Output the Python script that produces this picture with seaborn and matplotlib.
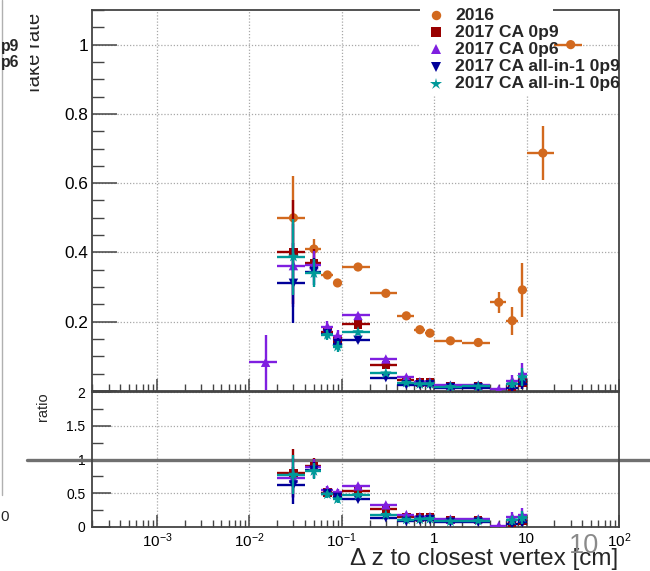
import numpy as np
import pandas as pd
import seaborn as sns
import matplotlib.pyplot as plt
from matplotlib.lines import Line2D
from matplotlib.patches import Rectangle
from matplotlib.transforms import Bbox
from matplotlib.ticker import FixedLocator, LogLocator, MultipleLocator, FuncFormatter, NullFormatter

nan = np.nan

# delta z bins [cm]
bin_lo = [0.01, 0.02, 0.04, 0.06, 0.08, 0.1, 0.2, 0.4, 0.6, 0.8, 1, 2, 4, 6, 8, 10, 20]
bin_hi = [0.02, 0.04, 0.06, 0.08, 0.1, 0.2, 0.4, 0.6, 0.8, 1, 2, 4, 6, 8, 10, 20, 40]

# fake rate per bin
rate_2016 = [nan, 0.50, 0.41, 0.335, 0.312, 0.358, 0.282, 0.217, 0.177, 0.167, 0.145, 0.14, 0.256, 0.203, 0.292, 0.687, 1.0]
err_2016 = [nan, 0.12, 0.03, 0.01, 0.008, 0.006, 0.005, 0.005, 0.005, 0.006, 0.004, 0.005, 0.03, 0.04, 0.077, 0.077, 0.0]
rate_ca09 = [nan, 0.40, 0.37, 0.171, 0.145, 0.192, 0.075, 0.032, 0.025, 0.025, 0.015, 0.015, nan, 0.008, 0.025, nan, nan]
err_ca09 = [nan, 0.15, 0.04, 0.015, 0.015, 0.008, 0.007, 0.005, 0.004, 0.004, 0.003, 0.003, nan, 0.008, 0.02, nan, nan]
rate_ca06 = [0.083, 0.362, 0.365, 0.186, 0.16, 0.218, 0.0925, 0.04, 0.027, 0.026, 0.017, 0.017, 0.005, 0.03, 0.05, nan, nan]
err_ca06 = [0.08, 0.12, 0.04, 0.015, 0.015, 0.008, 0.007, 0.005, 0.004, 0.004, 0.003, 0.003, 0.005, 0.015, 0.03, nan, nan]
rate_a09 = [nan, 0.311, 0.345, 0.165, 0.137, 0.1465, 0.0385, 0.018, 0.018, 0.018, 0.01, 0.01, nan, 0.01, 0.02, nan, nan]
err_a09 = [nan, 0.115, 0.04, 0.015, 0.015, 0.007, 0.005, 0.004, 0.004, 0.004, 0.003, 0.003, nan, 0.01, 0.015, nan, nan]
rate_a06 = [nan, 0.388, 0.34, 0.162, 0.128, 0.17, 0.051, 0.024, 0.02, 0.02, 0.012, 0.013, nan, 0.02, 0.04, nan, nan]
err_a06 = [nan, 0.11, 0.04, 0.015, 0.015, 0.008, 0.006, 0.004, 0.004, 0.004, 0.003, 0.003, nan, 0.012, 0.025, nan, nan]

names = ["2016", "2017 CA 0p9", "2017 CA 0p6", "2017 CA all-in-1 0p9", "2017 CA all-in-1 0p6"]
colors = ["#d2691e", "#990000", "#7f1fe0", "#000099", "#009999"]
markers = ["o", "s", "^", "v", "*"]
msizes = [44, 36, 46, 46, 74]

xtick_vals = [1e-3, 1e-2, 1e-1, 1, 10, 100]
xtick_labels = [r"$\mathregular{10^{-3}}$", r"$\mathregular{10^{-2}}$", r"$\mathregular{10^{-1}}$",
                "1", "10", r"$\mathregular{10^{2}}$"]

sns.set_theme(style="white")
plt.rcParams["font.family"] = ["Liberation Sans", "DejaVu Sans"]
plt.rcParams["mathtext.fontset"] = "custom"
plt.rcParams["mathtext.rm"] = "Liberation Sans"
plt.rcParams["mathtext.it"] = "Liberation Sans:italic"
plt.rcParams["mathtext.bf"] = "Liberation Sans:bold"

W, H = 650, 571
def fx(px):
    return px / W
def fy(py):
    return 1 - py / H

lo = np.array(bin_lo)
hi = np.array(bin_hi)
xc = (lo + hi) / 2
xerr = [xc - lo, hi - xc]

rates = [np.array(r) for r in [rate_2016, rate_ca09, rate_ca06, rate_a09, rate_a06]]
errs = [np.array(e) for e in [err_2016, err_ca09, err_ca06, err_a09, err_a06]]

fig = plt.figure(figsize=(6.5, 5.71), dpi=100)
ax = fig.add_axes([fx(92.3), fy(391), (619 - 92.3) / W, (391 - 10) / H])
rax = fig.add_axes([fx(92.3), fy(527), (619 - 92.3) / W, (527 - 392) / H])

spine_col = "#444444"
for a in (ax, rax):
    a.set_xscale("log")
    a.set_xlim(2e-4, 100)
    for s in a.spines.values():
        s.set_color(spine_col)
        s.set_linewidth(1.3)
    a.xaxis.set_major_locator(FixedLocator(xtick_vals))
    a.xaxis.set_minor_locator(LogLocator(base=10, subs=np.arange(2, 10), numticks=30))
    a.xaxis.set_minor_formatter(NullFormatter())
    a.tick_params(which="both", direction="in", color=spine_col, labelcolor="black",
                  top=False, right=False, left=True, bottom=True)
    a.tick_params(axis="x", which="major", length=9, width=1.1)
    a.tick_params(axis="x", which="minor", length=5, width=1.0)
    a.grid(True, which="major", ls=(0, (1, 1.5)), color="#a8a8a8", lw=0.9)
    a.set_axisbelow(True)

# main panel
ax.set_ylim(0, 1.1)
ax.yaxis.set_major_locator(MultipleLocator(0.2))
ax.yaxis.set_minor_locator(MultipleLocator(0.05))
ax.yaxis.set_major_formatter(FuncFormatter(lambda v, p: "" if v < 0.01 else f"{v:g}"))
ax.tick_params(axis="y", which="major", length=18, width=1.1, labelsize=12.4, pad=3)
ax.tick_params(axis="y", which="minor", length=8.5, width=1.0)
ax.tick_params(axis="x", labelbottom=False)

for i in range(5):
    ax.errorbar(xc, rates[i], xerr=xerr, yerr=errs[i], fmt="none", ecolor=colors[i],
                elinewidth=1.7, capsize=0, zorder=3 + i)
    d = pd.DataFrame({"x": xc, "y": rates[i]}).dropna()
    sns.scatterplot(data=d, x="x", y="y", ax=ax, color=colors[i], marker=markers[i],
                    s=msizes[i], edgecolor="none", linewidth=0, zorder=3.5 + i, legend=False)

# ratio panel: 2017 / 2016
rax.set_ylim(0, 2)
rax.yaxis.set_major_locator(MultipleLocator(0.5))
rax.yaxis.set_minor_locator(MultipleLocator(0.25))
rax.yaxis.set_major_formatter(FuncFormatter(lambda v, p: f"{v:g}"))
rax.tick_params(axis="y", which="major", length=14, width=1.1, labelsize=10, pad=5)
rax.tick_params(axis="y", which="minor", length=7.7, width=1.0)
rax.xaxis.set_major_formatter(FuncFormatter(lambda v, p: xtick_labels[xtick_vals.index(v)] if v in xtick_vals else ""))
rax.tick_params(axis="x", which="major", labelsize=11, pad=3.5)

rax.axhline(1, xmin=-0.124, xmax=1.06, color="#707070", lw=2.4, clip_on=False, zorder=2)
for i in range(1, 5):
    r = rates[i] / rates[0]
    rerr = r * np.sqrt((errs[i] / rates[i]) ** 2 + (errs[0] / rates[0]) ** 2)
    rax.errorbar(xc, r, xerr=xerr, yerr=rerr, fmt="none", ecolor=colors[i],
                 elinewidth=1.7, capsize=0, zorder=3 + i)
    d = pd.DataFrame({"x": xc, "y": r}).dropna()
    sns.scatterplot(data=d, x="x", y="y", ax=rax, color=colors[i], marker=markers[i],
                    s=msizes[i], edgecolor="none", linewidth=0, zorder=3.5 + i, legend=False)

ax.set_xlabel("")
ax.set_ylabel("")
rax.set_xlabel("")
rax.set_ylabel("")

# axis titles (y title is cut by the pad edge in the original)
t = fig.text(fx(40.5), fy(13), "fake rate", rotation=90, rotation_mode="anchor",
             ha="right", va="baseline", fontsize=14.7)
t.set_clip_on(True)
t.set_clip_box(Bbox.from_extents(29.5, 0, W, H))
fig.text(fx(47), fy(392), "ratio", rotation=90, rotation_mode="anchor",
         ha="right", va="baseline", fontsize=10.5)
fig.text(fx(618), fy(565.5), "\u0394 z to closest vertex [cm]", ha="right", va="baseline", fontsize=17.5)
fig.text(fx(584), fy(546), "10", ha="center", va="center", fontsize=19.5, color="#8a8a8a")

# legend
fig.add_artist(Rectangle((fx(420), fy(95)), (553 - 420) / W, 95 / H, transform=fig.transFigure,
                         facecolor="white", edgecolor="none", zorder=5))
for i, name in enumerate(names):
    yy = 15 + 17.2 * i
    fig.add_artist(Line2D([fx(436)], [fy(yy)], transform=fig.transFigure, marker=markers[i],
                          color=colors[i], markersize=6.8 if markers[i] != "*" else 9,
                          markeredgewidth=0, linestyle="none", zorder=6))
    fig.text(fx(455), fy(yy), name, ha="left", va="center", fontsize=12.6,
             fontweight="bold", zorder=6)

# bits of the neighbouring canvas at the left edge
fig.add_artist(Line2D([fx(1.5), fx(1.5)], [fy(0), fy(495)], transform=fig.transFigure,
                      color="#b0b0b0", lw=1))
fig.text(fx(0.5), fy(46), "p9", ha="left", va="center", fontsize=11.3, fontweight="bold")
fig.text(fx(0.5), fy(63), "p6", ha="left", va="center", fontsize=11.3, fontweight="bold")
fig.text(fx(0), fy(517), "0", ha="left", va="center", fontsize=11)

fig.savefig("out.png", dpi=100)
